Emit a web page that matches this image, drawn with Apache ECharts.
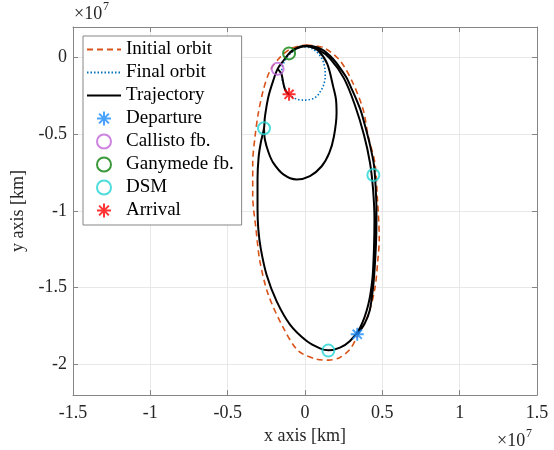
<!DOCTYPE html>
<html>
<head>
<meta charset="utf-8">
<script src="https://cdn.jsdelivr.net/npm/echarts@6/dist/echarts.min.js"></script>
<style>
  html, body { margin: 0; padding: 0; background: #fff; }
  #chart { width: 554px; height: 450px; }
</style>
</head>
<body>
<div id="chart"></div>
<script>
// all coordinates in units of 1e7 km
const initialOrbit = [
  [0.011, 0.082], [0.118, 0.066], [0.226, -0.019], [0.312, -0.170], [0.377, -0.342],
  [0.409, -0.514], [0.452, -0.686], [0.467, -0.901], [0.480, -1.181], [0.470, -1.331],
  [0.452, -1.503], [0.409, -1.675], [0.334, -1.826], [0.291, -1.901], [0.226, -1.955],
  [0.151, -1.972], [0.076, -1.966], [-0.043, -1.912], [-0.140, -1.761], [-0.237, -1.546],
  [-0.291, -1.331], [-0.317, -1.116], [-0.338, -0.901], [-0.338, -0.686], [-0.323, -0.514],
  [-0.302, -0.363], [-0.270, -0.213], [-0.226, -0.084], [-0.162, 0.002], [-0.097, 0.056],
  [-0.032, 0.077], [0.011, 0.082]
];

const finalOrbit = [
  [-0.103, -0.239], [-0.080, -0.258], [-0.054, -0.270], [-0.011, -0.277], [0.030, -0.273],
  [0.054, -0.266], [0.080, -0.248], [0.097, -0.224], [0.114, -0.195], [0.123, -0.170],
  [0.130, -0.135], [0.131, -0.105], [0.128, -0.070], [0.123, -0.041], [0.112, -0.012],
  [0.097, 0.013], [0.075, 0.038], [0.050, 0.057], [0.020, 0.068], [-0.010, 0.070],
  [-0.045, 0.062], [-0.080, 0.040], [-0.110, 0.010], [-0.135, -0.030], [-0.150, -0.075],
  [-0.150, -0.120], [-0.140, -0.170], [-0.125, -0.210], [-0.103, -0.239]
];

// trajectory, split in three pieces
const trajBigLoop = [
  [0.338, -1.804], [0.385, -1.735], [0.418, -1.650], [0.440, -1.500], [0.453, -1.330],
  [0.461, -1.150], [0.462, -1.000], [0.457, -0.850], [0.446, -0.700], [0.418, -0.560],
  [0.390, -0.450], [0.362, -0.350], [0.335, -0.280], [0.300, -0.200], [0.268, -0.130],
  [0.225, -0.065], [0.183, -0.010], [0.130, 0.040], [0.097, 0.060], [0.050, 0.074],
  [0.011, 0.078], [-0.030, 0.073], [-0.060, 0.060], [-0.085, 0.045], [-0.103, 0.028],
  [-0.140, -0.020], [-0.177, -0.073], [-0.205, -0.148], [-0.237, -0.256], [-0.259, -0.385],
  [-0.265, -0.460], [-0.285, -0.550], [-0.300, -0.650], [-0.307, -0.794], [-0.307, -0.987],
  [-0.302, -1.116], [-0.286, -1.245], [-0.248, -1.417], [-0.183, -1.589], [-0.097, -1.740],
  [0.011, -1.847], [0.097, -1.895], [0.151, -1.908], [0.226, -1.890], [0.291, -1.847],
  [0.356, -1.761], [0.409, -1.611], [0.436, -1.439], [0.446, -1.245], [0.449, -1.052],
  [0.440, -0.858], [0.420, -0.684], [0.381, -0.503], [0.323, -0.310], [0.252, -0.135],
  [0.162, -0.006], [0.084, 0.052], [0.006, 0.074], [-0.052, 0.061], [-0.103, 0.028]
];
const trajInnerLoop = [
  [-0.265, -0.460], [-0.259, -0.535], [-0.235, -0.620], [-0.205, -0.686], [-0.140, -0.761],
  [-0.054, -0.794], [0.032, -0.772], [0.108, -0.708], [0.157, -0.621], [0.187, -0.514],
  [0.204, -0.361], [0.200, -0.270], [0.183, -0.192], [0.144, -0.041], [0.086, 0.045],
  [0.021, 0.077]
];
const trajArrival = [
  [-0.177, -0.073], [-0.153, -0.105], [-0.143, -0.150], [-0.134, -0.192], [-0.122, -0.222],
  [-0.103, -0.239]
];

const departure = [[0.338, -1.804]];
const callistoFb = [[-0.177, -0.073]];
const ganymedeFb = [[-0.103, 0.028]];
const dsm = [[-0.265, -0.460], [0.151, -1.910], [0.442, -0.765]];
const arrival = [[-0.103, -0.239]];

const xTicks = { min: -1.5, max: 1.5, step: 0.5 };
const yRange = { min: -2.2, max: 0.2 };

const FONT = 'Liberation Serif';
const boxColor = '#858585';
const textColor = '#262626';
const star = 'path://M5,0L5,10M0,5L10,5M1.5,1.5L8.5,8.5M1.5,8.5L8.5,1.5';

const chart = echarts.init(document.getElementById('chart'), null, { renderer: 'canvas' });

function lineSeries(name, data, color, width, dash, z) {
  return {
    name: name, type: 'line', data: data, showSymbol: false, symbol: 'none',
    smooth: 0.3,
    // transparent item colour keeps the legend icon a plain line
    itemStyle: { color: 'transparent', borderWidth: 0 },
    lineStyle: { color: color, width: width, type: dash },
    z: z
  };
}

function markerSeries(name, data, symbol, color, size) {
  return {
    name: name, type: 'scatter', data: data, symbol: symbol, symbolSize: size,
    symbolKeepAspect: true,
    itemStyle: { color: 'transparent', borderColor: color, borderWidth: 2 },
    z: 5
  };
}

const commonX = {
  type: 'value', min: xTicks.min, max: xTicks.max, interval: xTicks.step
};
const commonY = {
  type: 'value', min: yRange.min, max: yRange.max, splitNumber: 5
};

chart.setOption({
  animation: false,
  backgroundColor: '#fff',
  grid: { left: 73, right: 17, top: 27, bottom: 52, show: false },
  xAxis: [
    Object.assign({}, commonX, {
      position: 'bottom',
      name: 'x axis [km]', nameLocation: 'middle', nameGap: 31,
      nameTextStyle: { fontFamily: FONT, fontSize: 18, color: textColor },
      axisLine: { show: true, onZero: false, lineStyle: { color: boxColor, width: 1 } },
      axisTick: { show: true, inside: true, length: 5, lineStyle: { color: boxColor } },
      axisLabel: { fontFamily: FONT, fontSize: 18, color: textColor, margin: 9 },
      splitLine: { show: true, lineStyle: { color: '#e8e8e8', width: 1 } }
    }),
    Object.assign({}, commonX, {
      position: 'top',
      axisLine: { show: true, onZero: false, lineStyle: { color: boxColor, width: 1 } },
      axisTick: { show: true, inside: true, length: 5, lineStyle: { color: boxColor } },
      axisLabel: { show: false },
      splitLine: { show: false }
    })
  ],
  yAxis: [
    Object.assign({}, commonY, {
      position: 'left',
      name: 'y axis [km]', nameLocation: 'middle', nameGap: 42,
      nameTextStyle: { fontFamily: FONT, fontSize: 18, color: textColor },
      axisLine: { show: true, onZero: false, lineStyle: { color: boxColor, width: 1 } },
      axisTick: { show: true, inside: true, length: 5, lineStyle: { color: boxColor } },
      axisLabel: { fontFamily: FONT, fontSize: 18, color: textColor, margin: 6,
        showMinLabel: false, showMaxLabel: false },
      splitLine: { show: true, lineStyle: { color: '#e8e8e8', width: 1 } }
    }),
    Object.assign({}, commonY, {
      position: 'right',
      axisLine: { show: true, onZero: false, lineStyle: { color: boxColor, width: 1 } },
      axisTick: { show: true, inside: true, length: 5, lineStyle: { color: boxColor } },
      axisLabel: { show: false },
      splitLine: { show: false }
    })
  ],
  legend: {
    orient: 'vertical', left: 83, top: 36,
    backgroundColor: '#fff', borderColor: boxColor, borderWidth: 1, borderRadius: 0,
    padding: [4, 8, 5, 3],
    itemWidth: 34, itemHeight: 14, itemGap: 4,
    textStyle: { fontFamily: FONT, fontSize: 19, color: '#000' },
    data: ['Initial orbit', 'Final orbit', 'Trajectory', 'Departure',
      'Callisto fb.', 'Ganymede fb.', 'DSM', 'Arrival']
  },
  graphic: [
    { type: 'text', left: 74, top: 5, style: { text: '×10', font: '18px "' + FONT + '"', fill: textColor } },
    { type: 'text', left: 103, top: 1, style: { text: '7', font: '12px "' + FONT + '"', fill: textColor } },
    { type: 'text', left: 497, top: 432, style: { text: '×10', font: '18px "' + FONT + '"', fill: textColor } },
    { type: 'text', left: 526, top: 428, style: { text: '7', font: '12px "' + FONT + '"', fill: textColor } }
  ],
  series: [
    lineSeries('Initial orbit', initialOrbit, '#D95319', 1.6, [6, 4], 2),
    lineSeries('Final orbit', finalOrbit, '#0072BD', 1.6, [1.5, 2], 2),
    lineSeries('Trajectory', trajBigLoop, '#000', 2, 'solid', 3),
    lineSeries('Trajectory', trajInnerLoop, '#000', 2, 'solid', 3),
    lineSeries('Trajectory', trajArrival, '#000', 2, 'solid', 3),
    markerSeries('Departure', departure, star, '#1a8cff', 13),
    markerSeries('Callisto fb.', callistoFb, 'circle', '#c064d8', 12),
    markerSeries('Ganymede fb.', ganymedeFb, 'circle', '#0a800a', 12),
    markerSeries('DSM', dsm, 'circle', '#22d3d3', 12),
    markerSeries('Arrival', arrival, star, '#ff0000', 13)
  ]
});
</script>
</body>
</html>
